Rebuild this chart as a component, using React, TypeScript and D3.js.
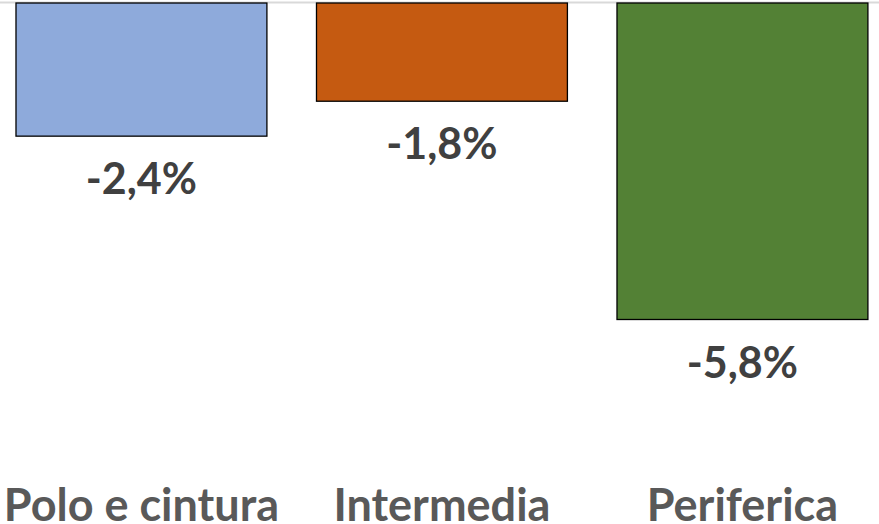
import React from "react";
import * as d3 from "d3";

const categories = ["Polo e cintura", "Intermedia", "Periferica"];
const values = [-2.44, -1.8, -5.8];
const colors = ["#8eaadb", "#c55a11", "#538135"];

const W = 879;
const H = 524;

export default function App() {
  const x = d3
    .scaleBand<string>()
    .domain(categories)
    .range([-8.8, 892.7])
    .paddingInner(0.165)
    .paddingOuter(0.0825);
  const y = d3.scaleLinear().domain([0, -5.8]).range([3, 319.5]);
  const fmt = (v: number) => d3.format(".1f")(v).replace("−", "-").replace(".", ",") + "%";

  return (
    <div style={{ position: "fixed", left: 0, top: 0, width: W, height: H, background: "#fff" }}>
      <svg width={W} height={H} style={{ display: "block" }}>
        <line x1={0} x2={W} y1={y(0) - 0.5} y2={y(0) - 0.5} stroke="#d9d9d9" strokeWidth={2} />
        {categories.map((c, i) => {
          const x0 = x(c)!;
          const bw = x.bandwidth();
          const top = y(0);
          const bottom = y(values[i]);
          return (
            <g key={c}>
              <rect
                x={x0}
                y={top}
                width={bw}
                height={bottom - top}
                fill={colors[i]}
                stroke="#000"
                strokeWidth={1.3}
              />
              <text
                x={x0 + bw / 2}
                y={bottom + 58}
                textAnchor="middle"
                fontFamily="Lato"
                fontWeight={700}
                fontSize={43}
                fill="#404040"
              >
                {fmt(values[i])}
              </text>
              <text
                x={x0 + bw / 2}
                y={521}
                textAnchor="middle"
                fontFamily="Lato"
                fontWeight={700}
                fontSize={45}
                fill="#595959"
              >
                {c}
              </text>
            </g>
          );
        })}
      </svg>
    </div>
  );
}
